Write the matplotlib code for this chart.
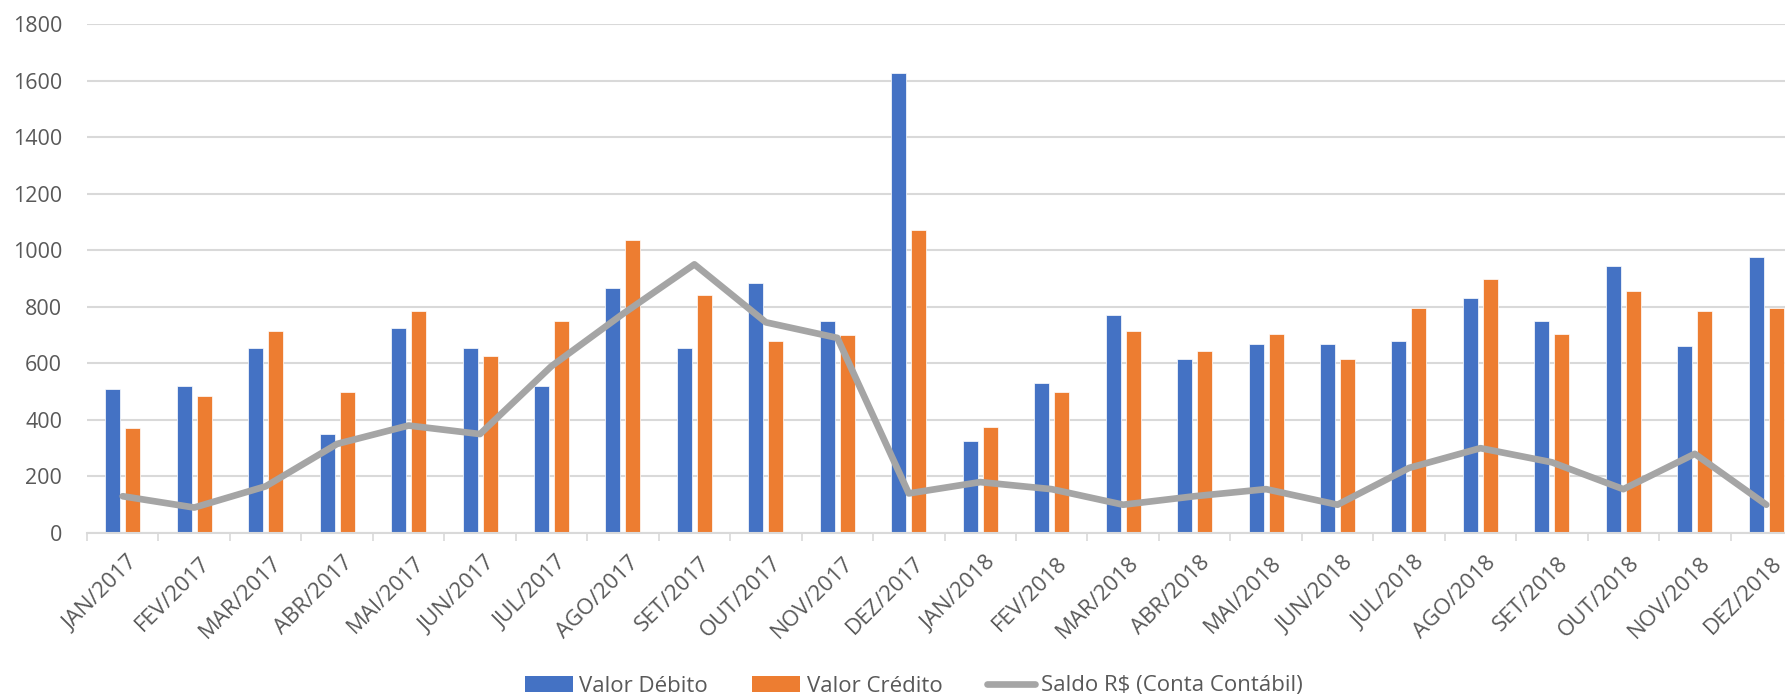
import numpy as np
import matplotlib
matplotlib.use("Agg")
import matplotlib.pyplot as plt
from matplotlib.lines import Line2D
from matplotlib.patches import Patch
import matplotlib.transforms as mtransforms

months = ["JAN/2017", "FEV/2017", "MAR/2017", "ABR/2017", "MAI/2017", "JUN/2017",
          "JUL/2017", "AGO/2017", "SET/2017", "OUT/2017", "NOV/2017", "DEZ/2017",
          "JAN/2018", "FEV/2018", "MAR/2018", "ABR/2018", "MAI/2018", "JUN/2018",
          "JUL/2018", "AGO/2018", "SET/2018", "OUT/2018", "NOV/2018", "DEZ/2018"]
valor_debito = [510, 520, 655, 350, 725, 655, 520, 865, 655, 885, 750, 1625,
                325, 530, 770, 615, 670, 670, 680, 830, 750, 945, 660, 975]
valor_credito = [370, 485, 715, 500, 785, 625, 750, 1035, 840, 680, 700, 1070,
                 375, 500, 715, 645, 705, 615, 795, 900, 705, 855, 785, 795]
saldo = [130, 90, 165, 315, 380, 350, 590, 775, 950, 745, 690, 140,
         180, 155, 100, 130, 155, 100, 230, 300, 250, 155, 280, 100]
y_ticks = [0, 200, 400, 600, 800, 1000, 1200, 1400, 1600, 1800]

plt.rcParams['font.family'] = ['Open Sans', 'DejaVu Sans']

W, H = 1785, 699
fig = plt.figure(figsize=(W / 100, H / 100), dpi=100)
left, right, bottom, top = 87, 1802, 533, 24
ax = fig.add_axes([left / W, (H - bottom) / H, (right - left) / W, (bottom - top) / H])

x = np.arange(len(months))
bw = 0.21
off = 0.14
ax.bar(x - off, valor_debito, width=bw, color="#4472C4", edgecolor="white", linewidth=0.5,
       label="Valor Débito", zorder=2)
ax.bar(x + off, valor_credito, width=bw, color="#ED7D31", edgecolor="white", linewidth=0.5,
       label="Valor Crédito", zorder=2)
ax.plot(x, saldo, color="#A5A5A5", linewidth=4.8, solid_joinstyle="round",
        solid_capstyle="round", label="Saldo R$ (Conta Contábil)", zorder=3)

ax.set_xlim(-0.5, len(months) - 0.5)
ax.set_ylim(0, 1800)
ax.set_yticks(y_ticks)
ax.set_yticklabels([str(v) for v in y_ticks])
ax.yaxis.grid(True, color="#D9D9D9", linewidth=1.5)
ax.set_axisbelow(True)

for s in ["top", "right", "left"]:
    ax.spines[s].set_visible(False)
ax.spines["bottom"].set_color("#D9D9D9")
ax.spines["bottom"].set_linewidth(1.5)

ax.tick_params(axis="y", length=0, pad=18, labelsize=15.5, labelcolor="#595959")
ax.set_xticks(x)
ax.set_xticklabels(months, rotation=45, ha="right", rotation_mode="anchor")
ax.tick_params(axis="x", which="major", length=0, pad=14, labelsize=16, labelcolor="#595959")
ax.set_xticks(np.arange(-0.5, len(months) + 0.5, 1), minor=True)
ax.tick_params(axis="x", which="minor", length=6, width=1.2, color="#D9D9D9")

shift = mtransforms.ScaledTranslation(5 / 100, 0, fig.dpi_scale_trans)
for lab in ax.get_xticklabels():
    lab.set_transform(lab.get_transform() + shift)

handles = [Patch(facecolor="#4472C4", edgecolor="none"),
           Patch(facecolor="#ED7D31", edgecolor="none"),
           Line2D([0], [0], color="#A5A5A5", linewidth=4.8, solid_capstyle="round")]
labels = ["Valor Débito", "Valor Crédito", "Saldo R$ (Conta Contábil)"]
fig.legend(handles, labels, loc="center", bbox_to_anchor=(914 / W, 1 - 686 / H), ncol=3,
           frameon=False, fontsize=16, labelcolor="#595959", handlelength=2.15,
           handleheight=0.7, handletextpad=0.3, columnspacing=2.0, borderpad=0)

fig.savefig("out.png", dpi=100)
